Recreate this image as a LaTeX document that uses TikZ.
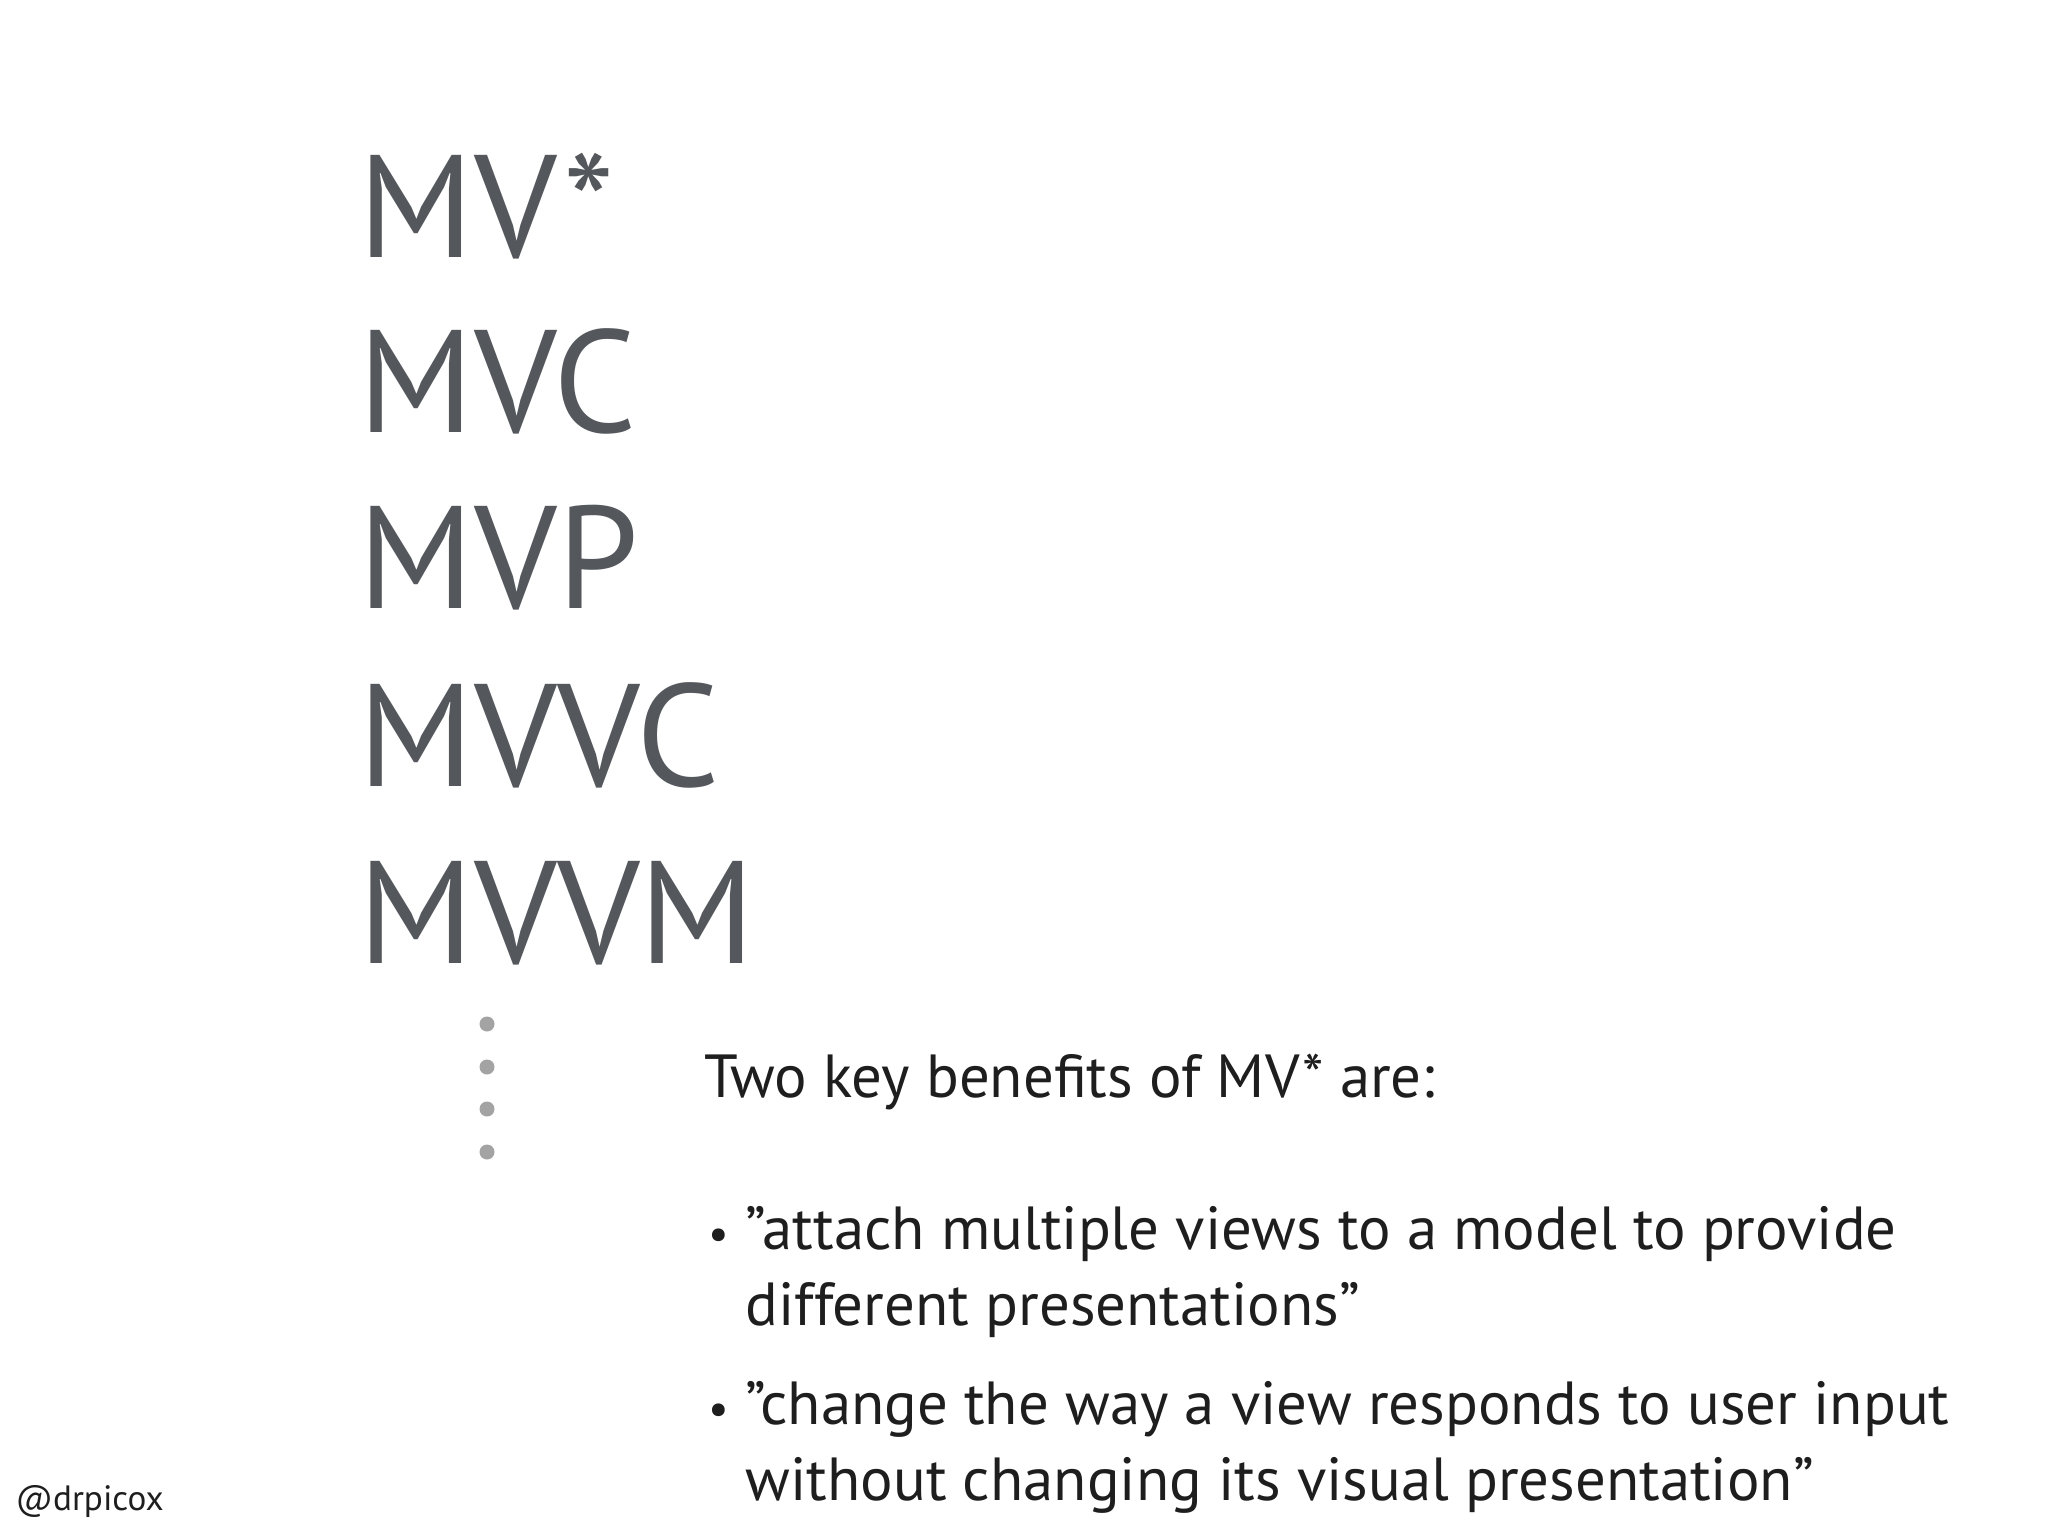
\documentclass[tikz,border=0pt]{standalone}
\usepackage{fontspec}
\setmainfont{PT Sans}
\usetikzlibrary{positioning}
\definecolor{titlegray}{HTML}{54585D}
\definecolor{dotgray}{HTML}{A3A3A3}
\definecolor{bodyblack}{HTML}{1E1E1E}
\newcommand{\qt}{\symbol{34}}
\tikzset{
  pattern/.style={anchor=base west, inner sep=0pt, text=titlegray, font=\fontsize{41.5}{46}\selectfont},
  body/.style={anchor=base west, inner sep=0pt, text=bodyblack, font=\fontsize{17.3}{21}\selectfont},
  moredot/.style={circle, fill=dotgray, inner sep=0pt, minimum size=0.15cm},
}
\begin{document}
\begin{tikzpicture}[x=0.01cm, y=-0.01cm]
  \useasboundingbox[fill=white] (0,0) rectangle (2048,1536);
  % list of patterns
  \node[pattern] (mvstar) at (358,257) {MV*};
  \node[pattern] (mvc) at (358,432) {MVC};
  \node[pattern] (mvp) at (358,608) {MVP};
  \node[pattern] (mvvc) at (358,786) {MVVC};
  \node[pattern] (mvvm) at (358,963) {MVVM};
  % and so on
  \foreach \y [count=\i] in {1024,1067,1109,1152}
    \node[moredot] (dot\i) at (487,\y) {};
  % benefits
  \node[body] (intro) at (704,1097) {Two key benefits of MV* are:};
  \node[body, font=\fontsize{13}{15}\selectfont] (bulletA) at (708,1249) {•};
  \node[body] (benefitA1) at (745,1249) {\qt attach multiple views to a model to provide};
  \node[body] (benefitA2) at (745,1325) {different presentations\qt};
  \node[body, font=\fontsize{13}{15}\selectfont] (bulletB) at (708,1424) {•};
  \node[body] (benefitB1) at (745,1424) {\qt change the way a view responds to user input};
  \node[body] (benefitB2) at (745,1500) {without changing its visual presentation\qt};
  \node[body, font=\fontsize{10}{12}\selectfont] (handle) at (15,1510) {@drpicox};
\end{tikzpicture}
\end{document}
